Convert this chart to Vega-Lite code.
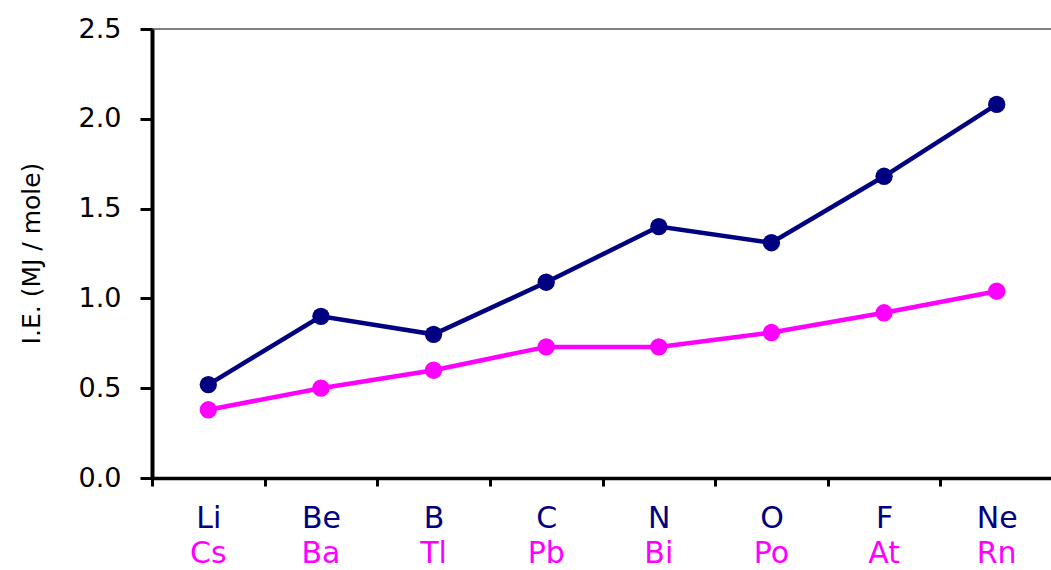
{
  "$schema": "https://vega.github.io/schema/vega-lite/v6.json",
  "width": 901,
  "height": 449,
  "autosize": {"type": "none"},
  "padding": {"left": 152, "top": 29, "right": 0, "bottom": 92},
  "background": "white",
  "config": {
    "view": {"stroke": "#808080", "strokeWidth": 2},
    "font": "DejaVu Sans",
    "axis": {"grid": false, "domainColor": "black", "tickColor": "black"}
  },
  "data": {
    "values": [
      {"x": "Li", "series": "Period 2", "ie": 0.52},
      {"x": "Be", "series": "Period 2", "ie": 0.9},
      {"x": "B", "series": "Period 2", "ie": 0.8},
      {"x": "C", "series": "Period 2", "ie": 1.09},
      {"x": "N", "series": "Period 2", "ie": 1.4},
      {"x": "O", "series": "Period 2", "ie": 1.31},
      {"x": "F", "series": "Period 2", "ie": 1.68},
      {"x": "Ne", "series": "Period 2", "ie": 2.08},
      {"x": "Li", "series": "Period 6", "ie": 0.38},
      {"x": "Be", "series": "Period 6", "ie": 0.5},
      {"x": "B", "series": "Period 6", "ie": 0.6},
      {"x": "C", "series": "Period 6", "ie": 0.73},
      {"x": "N", "series": "Period 6", "ie": 0.73},
      {"x": "O", "series": "Period 6", "ie": 0.81},
      {"x": "F", "series": "Period 6", "ie": 0.92},
      {"x": "Ne", "series": "Period 6", "ie": 1.04}
    ]
  },
  "resolve": {"axis": {"x": "independent"}},
  "layer": [
    {
      "transform": [{"filter": "datum.series === 'Period 2'"}],
      "mark": {"type": "line", "color": "#000080", "strokeWidth": 4.5, "point": {"filled": true, "size": 300, "color": "#000080", "opacity": 1}},
      "encoding": {
        "x": {
          "field": "x", "type": "nominal", "bandPosition": 0.5,
          "sort": ["Li", "Be", "B", "C", "N", "O", "F", "Ne"],
          "scale": {"type": "band", "paddingInner": 0, "paddingOuter": 0},
          "axis": {
            "orient": "bottom", "title": null, "labelAngle": 0, "tickBand": "extent",
            "domainWidth": 3.5, "tickWidth": 3, "tickSize": 8,
            "labelFontSize": 30, "labelColor": "#000080", "labelPadding": 17
          }
        },
        "y": {
          "field": "ie", "type": "quantitative",
          "scale": {"domain": [0, 2.5], "nice": false},
          "axis": {
            "title": "I.E. (MJ / mole)", "values": [0, 0.5, 1, 1.5, 2, 2.5], "format": ".1f",
            "domainWidth": 4, "tickWidth": 3, "tickSize": 12,
            "labelFontSize": 27, "labelColor": "black", "labelPadding": 19,
            "titleFontSize": 25, "titleFontWeight": "normal", "titleColor": "black",
            "titleX": -121, "titleY": 224, "titleAngle": -90, "titleBaseline": "middle", "titleAlign": "center"
          }
        }
      }
    },
    {
      "transform": [{"filter": "datum.series === 'Period 6'"}],
      "mark": {"type": "line", "color": "#FF00FF", "strokeWidth": 4.5, "point": {"filled": true, "size": 300, "color": "#FF00FF", "opacity": 1}},
      "encoding": {
        "x": {
          "field": "x", "type": "nominal", "bandPosition": 0.5,
          "sort": ["Li", "Be", "B", "C", "N", "O", "F", "Ne"],
          "scale": {"type": "band", "paddingInner": 0, "paddingOuter": 0},
          "axis": {
            "orient": "bottom", "title": null, "labelAngle": 0, "domain": false, "ticks": false,
            "labelFontSize": 30, "labelColor": "#FF00FF", "labelPadding": 60,
            "labelExpr": "['Cs','Ba','Tl','Pb','Bi','Po','At','Rn'][indexof(['Li','Be','B','C','N','O','F','Ne'], datum.value)]"
          }
        },
        "y": {"field": "ie", "type": "quantitative"}
      }
    }
  ]
}
